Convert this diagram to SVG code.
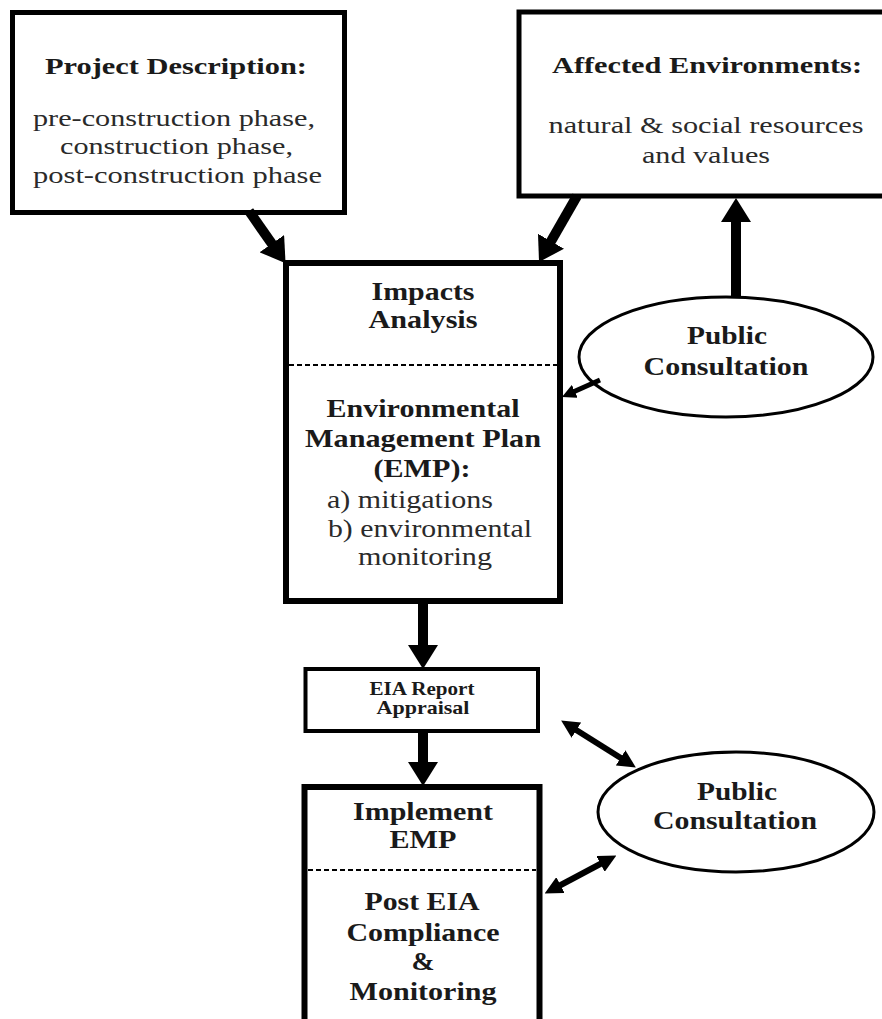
<svg xmlns="http://www.w3.org/2000/svg" width="882" height="1019" viewBox="0 0 882 1019">
  <style>
    .box { fill: #ffffff; stroke: #000000; }
    .ell { fill: #ffffff; stroke: #000000; stroke-width: 3; }
    .dash { stroke: #000000; stroke-width: 2; stroke-dasharray: 5 3; fill: none; }
    text { font-family: "Liberation Serif", "Times New Roman", serif; fill: #1a1a1a; text-anchor: middle; }
    .b { font-weight: bold; }
    .r { fill: #2a2a2a; }
    .thick { stroke: #000000; stroke-width: 10; fill: none; marker-end: url(#headBig); }
    .thin { stroke: #000000; stroke-width: 5; fill: none; marker-end: url(#headSmall); }
    .both { stroke: #000000; stroke-width: 6; fill: none; marker-start: url(#headMid); marker-end: url(#headMid); }
  </style>
  <defs>
    <marker id="headBig" viewBox="0 0 24 30" refX="4" refY="15" markerWidth="24" markerHeight="30" markerUnits="userSpaceOnUse" orient="auto">
      <path d="M0,0 L24,15 L0,30 Z" fill="#000000"/>
    </marker>
    <marker id="headSmall" viewBox="0 0 14 14" refX="3" refY="7" markerWidth="14" markerHeight="14" markerUnits="userSpaceOnUse" orient="auto">
      <path d="M0,0 L14,7 L0,14 Z" fill="#000000"/>
    </marker>
    <marker id="headMid" viewBox="0 0 18 18" refX="4" refY="9" markerWidth="18" markerHeight="18" markerUnits="userSpaceOnUse" orient="auto-start-reverse">
      <path d="M0,0 L18,9 L0,18 Z" fill="#000000"/>
    </marker>
  </defs>

  <!-- Project description -->
  <g id="project">
    <rect class="box" x="12.5" y="12.5" width="332" height="200" stroke-width="5"/>
    <text class="b" x="176" y="74" font-size="23" textLength="262" lengthAdjust="spacingAndGlyphs">Project Description:</text>
    <text class="r" x="174" y="126" font-size="24" textLength="282" lengthAdjust="spacingAndGlyphs">pre-construction phase,</text>
    <text class="r" x="176.5" y="154" font-size="24" textLength="233" lengthAdjust="spacingAndGlyphs">construction phase,</text>
    <text class="r" x="177.5" y="183" font-size="24" textLength="289" lengthAdjust="spacingAndGlyphs">post-construction phase</text>
  </g>

  <!-- Affected environments -->
  <g id="affected">
    <rect class="box" x="519" y="12" width="372" height="184" stroke-width="5"/>
    <text class="b" x="707" y="73" font-size="24" textLength="310" lengthAdjust="spacingAndGlyphs">Affected Environments:</text>
    <text class="r" x="706" y="133" font-size="24" textLength="315" lengthAdjust="spacingAndGlyphs">natural &amp; social resources</text>
    <text class="r" x="706" y="163" font-size="24" textLength="128" lengthAdjust="spacingAndGlyphs">and values</text>
  </g>

  <!-- Impacts analysis / EMP -->
  <g id="impacts">
    <rect class="box" x="286" y="263" width="274" height="338" stroke-width="6"/>
    <line class="dash" x1="289" y1="365" x2="557" y2="365"/>
    <text class="b" x="423" y="300" font-size="25" textLength="103" lengthAdjust="spacingAndGlyphs">Impacts</text>
    <text class="b" x="423" y="328" font-size="25" textLength="109" lengthAdjust="spacingAndGlyphs">Analysis</text>
    <text class="b" x="423" y="417" font-size="25" textLength="193" lengthAdjust="spacingAndGlyphs">Environmental</text>
    <text class="b" x="423" y="447" font-size="25" textLength="236" lengthAdjust="spacingAndGlyphs">Management Plan</text>
    <text class="b" x="422" y="477" font-size="25" textLength="97" lengthAdjust="spacingAndGlyphs">(EMP):</text>
    <text class="r" x="327" y="508" font-size="25" text-anchor="start" style="text-anchor:start" textLength="166" lengthAdjust="spacingAndGlyphs">a) mitigations</text>
    <text class="r" x="328" y="537" font-size="25" style="text-anchor:start" textLength="204" lengthAdjust="spacingAndGlyphs">b) environmental</text>
    <text class="r" x="358" y="565" font-size="25" style="text-anchor:start" textLength="134" lengthAdjust="spacingAndGlyphs">monitoring</text>
  </g>

  <!-- Public consultation (upper) -->
  <g id="consult1">
    <ellipse class="ell" cx="726" cy="357" rx="147" ry="60"/>
    <text class="b" x="727" y="344" font-size="25" textLength="80" lengthAdjust="spacingAndGlyphs">Public</text>
    <text class="b" x="726" y="375" font-size="25" textLength="165" lengthAdjust="spacingAndGlyphs">Consultation</text>
  </g>

  <!-- EIA report appraisal -->
  <g id="appraisal">
    <rect class="box" x="305.5" y="669" width="232.5" height="62" stroke-width="4"/>
    <text class="b" x="422" y="695" font-size="19" textLength="105" lengthAdjust="spacingAndGlyphs">EIA Report</text>
    <text class="b" x="423" y="714" font-size="19" textLength="93" lengthAdjust="spacingAndGlyphs">Appraisal</text>
  </g>

  <!-- Implement EMP / post EIA monitoring -->
  <g id="implement">
    <rect class="box" x="304.5" y="787" width="235" height="260" stroke-width="6"/>
    <line class="dash" x1="308" y1="870" x2="536" y2="870"/>
    <text class="b" x="423" y="820" font-size="25" textLength="140" lengthAdjust="spacingAndGlyphs">Implement</text>
    <text class="b" x="423" y="848" font-size="25" textLength="67" lengthAdjust="spacingAndGlyphs">EMP</text>
    <text class="b" x="422" y="910" font-size="25" textLength="115" lengthAdjust="spacingAndGlyphs">Post EIA</text>
    <text class="b" x="423" y="941" font-size="25" textLength="153" lengthAdjust="spacingAndGlyphs">Compliance</text>
    <text class="b" x="423" y="970" font-size="25" textLength="23" lengthAdjust="spacingAndGlyphs">&amp;</text>
    <text class="b" x="423" y="1000" font-size="25" textLength="147" lengthAdjust="spacingAndGlyphs">Monitoring</text>
  </g>

  <!-- Public consultation (lower) -->
  <g id="consult2">
    <ellipse class="ell" cx="736" cy="812" rx="138" ry="60"/>
    <text class="b" x="737" y="800" font-size="25" textLength="80" lengthAdjust="spacingAndGlyphs">Public</text>
    <text class="b" x="735" y="829" font-size="25" textLength="164" lengthAdjust="spacingAndGlyphs">Consultation</text>
  </g>

  <!-- Connectors -->
  <g id="connectors">
    <line class="thick" x1="249" y1="211" x2="274.1" y2="246.9"/>
    <line class="thick" x1="577" y1="196" x2="549" y2="244.7"/>
    <line class="thick" x1="736" y1="297" x2="736" y2="218"/>
    <line class="thin" x1="600" y1="380" x2="572" y2="392.5"/>
    <line class="thick" x1="423" y1="603" x2="423" y2="649"/>
    <line class="thick" x1="423" y1="731" x2="423" y2="766"/>
    <line class="both" x1="573" y1="728" x2="624" y2="760"/>
    <line class="both" x1="557" y1="887" x2="604" y2="862"/>
  </g>
</svg>
